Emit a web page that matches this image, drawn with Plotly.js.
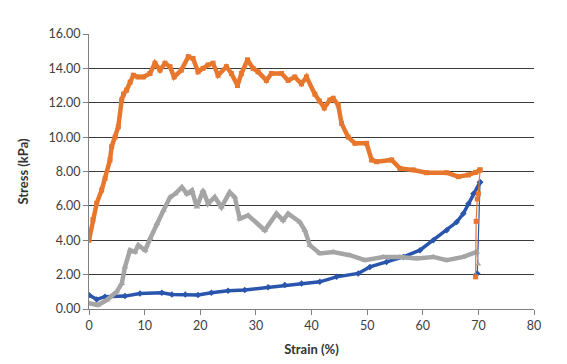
<!DOCTYPE html>
<html><head><meta charset="utf-8">
<script src="https://cdn.plot.ly/plotly-3.0.1.min.js"></script>
<style>html,body{margin:0;padding:0;background:#fff}#chart{width:567px;height:364px}</style>
</head><body><div id="chart"></div>
<script>
// Orange series (squares)
const orangeX = [0,0.7,1.38,2.28,2.9,3.77,4.07,4.7,5.27,5.87,6.2,6.77,7.4,7.97,8.8,9.77,10.96,11.86,12.76,13.66,14.56,15.3,16.6,17.85,18.7,19.6,20.5,21.4,22.3,23.2,24.7,25.6,26.7,27.4,28.5,29.5,30.4,31.9,32.8,34.6,35.8,37.0,38.2,39.1,40.6,41.4,42.3,43.3,43.9,44.8,45.4,46.6,47.8,49.9,50.8,51.7,54.4,55.9,58.3,60.7,64.3,66.4,68.2,69.5,70.3,70.0,69.8,69.6,69.5];
const orangeY = [4.0,5.2,6.15,6.92,7.6,8.67,9.44,10.0,10.6,12.16,12.5,12.74,13.2,13.6,13.5,13.5,13.7,14.3,13.9,14.3,14.1,13.5,13.9,14.68,14.58,13.8,14.0,14.2,14.3,13.6,14.1,13.7,13.0,13.7,14.5,14.0,13.8,13.3,13.7,13.7,13.3,13.5,13.1,13.5,12.5,12.1,11.7,12.16,12.26,11.87,10.8,10.0,9.64,9.64,8.67,8.57,8.67,8.18,8.09,7.93,7.93,7.7,7.8,7.95,8.09,6.7,6.4,5.1,1.87];
// Gray series (triangles)
const grayX = [0,1.6,3.2,4.97,5.9,6.47,7.37,8.27,8.86,10.1,11.0,12.2,13.4,14.6,15.5,16.7,17.6,18.5,19.4,20.5,21.4,22.6,23.8,25.3,26.2,27.1,28.6,31.6,33.7,34.9,35.8,37.9,38.8,39.7,41.5,43.9,46.9,49.6,52.9,55.9,58.9,61.9,64.3,67.3,69.7,70.0];
const grayY = [0.33,0.23,0.52,1.0,1.49,2.45,3.42,3.32,3.71,3.42,4.1,4.97,5.74,6.51,6.7,7.09,6.7,6.9,5.93,6.9,6.13,6.51,5.93,6.8,6.51,5.25,5.45,4.58,5.55,5.16,5.55,5.06,4.58,3.71,3.23,3.32,3.13,2.84,3.03,3.03,2.94,3.03,2.84,3.03,3.32,2.6];
// Blue series (diamonds)
const blueX = [0,1.38,2.87,6.47,9.16,13.1,14.9,17.3,19.6,22.0,25.0,28.0,32.2,35.2,38.2,41.5,44.5,48.4,50.5,53.5,56.5,59.5,61.9,64.3,66.1,67.3,68.2,69.1,70.3,69.8];
const blueY = [0.81,0.56,0.72,0.75,0.9,0.95,0.85,0.85,0.81,0.95,1.06,1.1,1.26,1.39,1.49,1.58,1.87,2.07,2.45,2.74,3.03,3.42,4.0,4.58,5.06,5.55,6.13,6.7,7.38,2.07];
const yTicks = [0,2,4,6,8,10,12,14,16];
const yTickText = ["0.00","2.00","4.00","6.00","8.00","10.00","12.00","14.00","16.00"];
const xTicks = [0,10,20,30,40,50,60,70,80];

const BLUE = '#2a55ad', GRAY = '#a5a5a5', ORANGE = '#e8772e';
function seg(x, y, color, w, sym, ms) {
  return {x: x, y: y, mode:'lines+markers', line:{color: color, width: w}, marker:{symbol: sym, size: ms, color: color}};
}
const traces = [
  seg(blueX.slice(0,-1), blueY.slice(0,-1), BLUE, 3.5, 'diamond', 5),
  seg(blueX.slice(-2), blueY.slice(-2), BLUE, 1.2, 'diamond', 5),
  seg(grayX.slice(0,-1), grayY.slice(0,-1), GRAY, 4.5, 'triangle-up', 6),
  seg(grayX.slice(-2), grayY.slice(-2), GRAY, 1.2, 'triangle-up', 5),
  seg(orangeX.slice(0,-4), orangeY.slice(0,-4), ORANGE, 4.5, 'square', 5),
  seg(orangeX.slice(-5), orangeY.slice(-5), ORANGE, 1.2, 'square', 5)
];

const layout = {
  width:567, height:364, showlegend:false,
  paper_bgcolor:'#fff', plot_bgcolor:'#fff',
  margin:{l:89, r:33, t:34, b:55},
  font:{family:'Lato, "Open Sans", sans-serif', size:12, color:'#404040'},
  xaxis:{range:[0,80], tickvals:xTicks, ticks:'outside', ticklen:5, tickcolor:'#808080',
    showgrid:false, zeroline:false, showline:true, linecolor:'#808080', linewidth:1,
    tickfont:{size:12.5, color:'#404040'},
    title:{text:'<b>Strain (%)</b>', font:{size:13, color:'#333333'}, standoff:12}},
  yaxis:{range:[0,16], tickvals:yTicks, ticktext:yTickText, ticks:'outside', ticklen:5, tickcolor:'#808080',
    showgrid:true, gridcolor:'#3a3a3a', gridwidth:1, zeroline:false, showline:true, linecolor:'#808080', linewidth:1,
    tickfont:{size:12.5, color:'#404040'},
    title:{text:'<b>Stress (kPa)</b>', font:{size:13, color:'#333333'}, standoff:16}}
};
Plotly.newPlot('chart', traces, layout, {displayModeBar:false, staticPlot:true});
</script></body></html>
